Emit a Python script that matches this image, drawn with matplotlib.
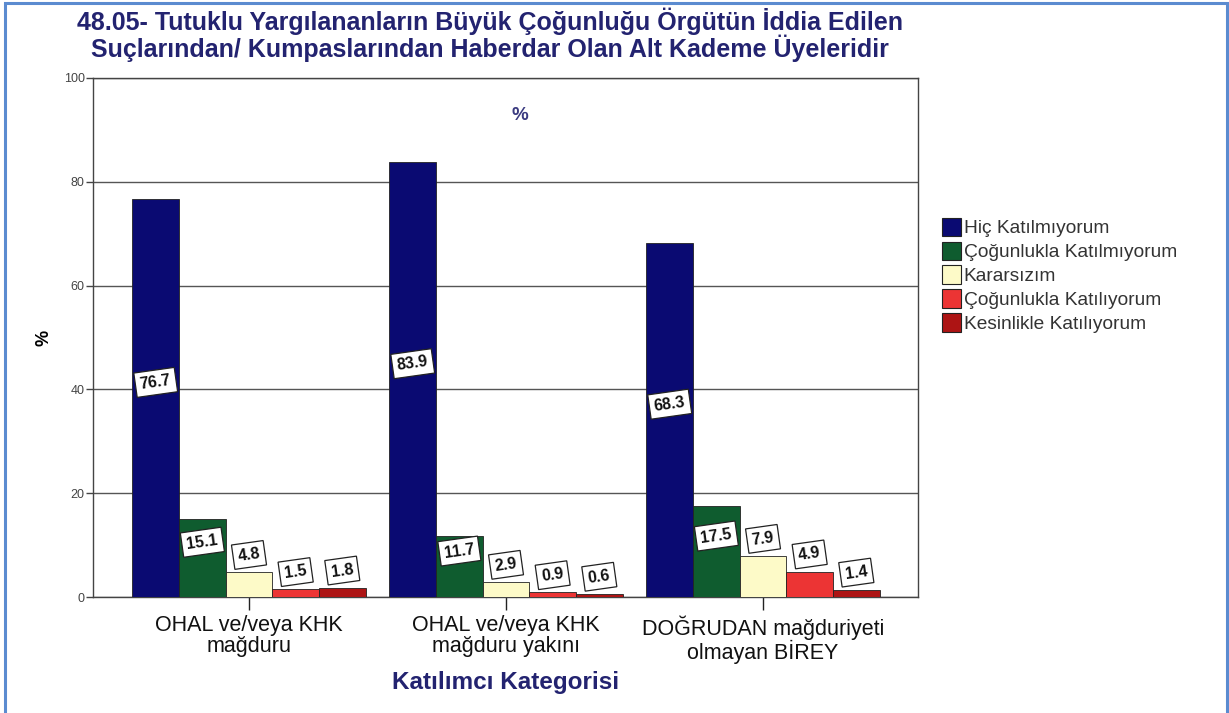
import matplotlib
matplotlib.use("Agg")
import matplotlib.pyplot as plt
from matplotlib.patches import Patch, Rectangle
import numpy as np

categories = ["OHAL ve/veya KHK\nmağduru", "OHAL ve/veya KHK\nmağduru yakını", "DOĞRUDAN mağduriyeti\nolmayan BİREY"]
series_names = ["Hiç Katılmıyorum", "Çoğunlukla Katılmıyorum", "Kararsızım", "Çoğunlukla Katılıyorum", "Kesinlikle Katılıyorum"]
values = {
    "Hiç Katılmıyorum": [76.7, 83.9, 68.3],
    "Çoğunlukla Katılmıyorum": [15.1, 11.7, 17.5],
    "Kararsızım": [4.8, 2.9, 7.9],
    "Çoğunlukla Katılıyorum": [1.5, 0.9, 4.9],
    "Kesinlikle Katılıyorum": [1.8, 0.6, 1.4],
}
colors = ["#0a0a72", "#0f5c2f", "#fdfac8", "#ec3434", "#ad1414"]
yticks = [0, 20, 40, 60, 80, 100]
title = "48.05- Tutuklu Yargılananların Büyük Çoğunluğu Örgütün İddia Edilen\nSuçlarından/ Kumpaslarından Haberdar Olan Alt Kademe Üyeleridir"

plt.rcParams['font.family'] = ['Liberation Sans', 'DejaVu Sans']

fig = plt.figure(figsize=(12.29, 7.13), dpi=100)
ax = fig.add_axes([93/1229, 1-597/713, (918-93)/1229, (597-78)/713])

navy = "#232370"
nser = len(series_names)
bw = 0.1815
x = np.arange(len(categories))
for i, (name, c) in enumerate(zip(series_names, colors)):
    offs = (i - (nser-1)/2) * bw
    vals = values[name]
    ax.bar(x + offs, vals, width=bw, color=c, edgecolor="#222222", linewidth=0.6, zorder=3, label=name)
    for xi, v in zip(x, vals):
        ly = v/2 + 3 if v > 9 else v + 3.3
        ax.text(xi + offs, ly, f"{v:.1f}", rotation=8, ha="center", va="center",
                fontsize=11.5, fontweight="bold", color="#111111", zorder=5,
                bbox=dict(boxstyle="square,pad=0.3", facecolor="white", edgecolor="#222222", linewidth=0.9))

ax.set_xlim(-0.607, 2.603)
ax.set_ylim(0, 100)
ax.set_yticks(yticks)
ax.set_yticklabels([str(t) for t in yticks], fontsize=9, color="#444444")
ax.yaxis.grid(True, color="#555555", linewidth=1.0, zorder=0)
ax.set_axisbelow(True)
ax.set_xticks(x)
ax.set_xticklabels(categories, fontsize=15.5, color="#111111", linespacing=1.0)
ax.tick_params(axis="x", length=9, width=1, color="#222222", pad=4)
ax.tick_params(axis="y", length=5, width=1, color="#444444", pad=1)
for s in ax.spines.values():
    s.set_color("#444444")
    s.set_linewidth(1.0)
ax.set_ylabel("%", fontsize=13, fontweight="bold", labelpad=8)
ax.set_xlabel("Katılımcı Kategorisi", fontsize=17.5, fontweight="bold", color=navy, labelpad=5)
fig.text(520/1229, 1-116/713, "%", fontsize=13.5, fontweight="bold", color="#3a3a80", ha="center", va="center")

fig.text(490/1229, 1-35/713, title, fontsize=18, fontweight="bold", color=navy, ha="center", va="center",
         linespacing=1.0)

handles = [Patch(facecolor=c, edgecolor="#222222", linewidth=0.8) for c in colors]
leg = fig.legend(handles, series_names, loc="upper left", bbox_to_anchor=(932/1229, 1-208/713),
                 frameon=False, fontsize=13.8, handlelength=1.0, handleheight=1.1, handletextpad=0.15,
                 labelspacing=0.22, borderpad=0)
for t in leg.get_texts():
    t.set_color("#333333")

fig.patches.append(Rectangle((5/1229, -0.02), (1227-5)/1229, 1.02 - 3/713, transform=fig.transFigure,
                             fill=False, edgecolor="#5b8bd0", linewidth=2.2, zorder=10))

fig.savefig("out.png", dpi=100)
